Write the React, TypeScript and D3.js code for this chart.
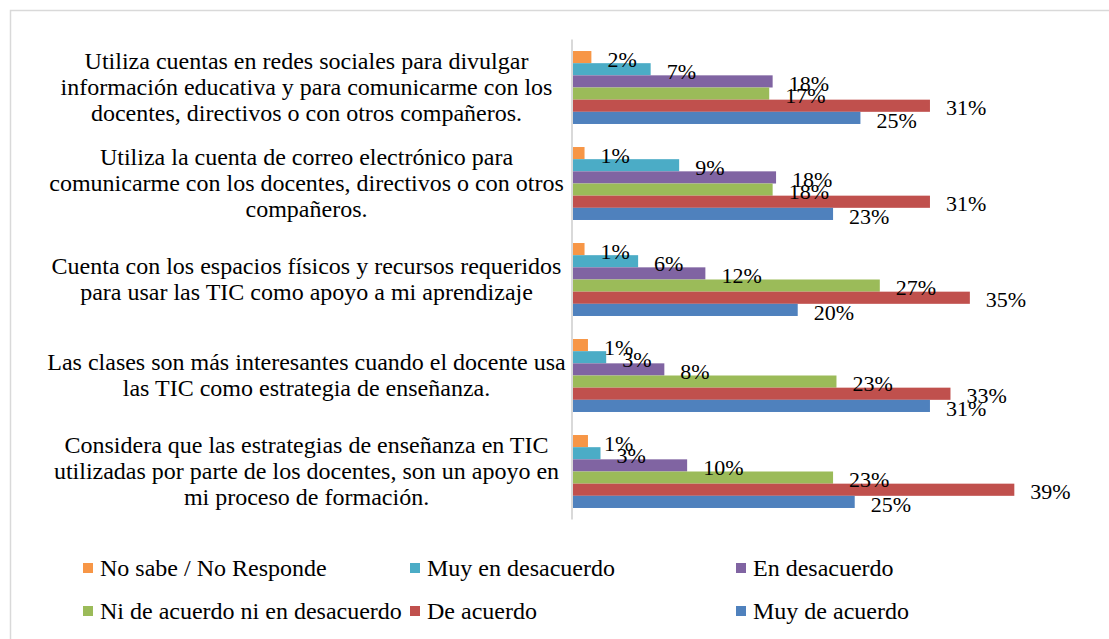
import React from "react";
import * as d3 from "d3";

const categories = [
  ["Utiliza cuentas en redes sociales para divulgar", "información educativa y para comunicarme con los", "docentes, directivos o con otros compañeros."],
  ["Utiliza la cuenta de correo electrónico para", "comunicarme con los docentes, directivos o con otros", "compañeros."],
  ["Cuenta con los espacios físicos y recursos requeridos", "para usar las TIC como apoyo a mi aprendizaje"],
  ["Las clases son más interesantes cuando el docente usa", "las TIC como estrategia de enseñanza."],
  ["Considera que las estrategias de enseñanza en TIC", "utilizadas por parte de los docentes, son un apoyo en", "mi proceso de formación."],
];

const seriesNames = [
  "No sabe / No Responde",
  "Muy en desacuerdo",
  "En desacuerdo",
  "Ni de acuerdo ni en desacuerdo",
  "De acuerdo",
  "Muy de acuerdo",
];

const seriesColors = ["#F79646", "#4BACC6", "#8064A2", "#9BBB59", "#C0504D", "#4F81BD"];

// values per series, one per category (top to bottom)
const noSabe = [0.017, 0.011, 0.011, 0.014, 0.014];
const muyEnDesacuerdo = [0.069, 0.094, 0.058, 0.030, 0.025];
const enDesacuerdo = [0.176, 0.179, 0.117, 0.081, 0.101];
const niNi = [0.173, 0.176, 0.270, 0.232, 0.229];
const deAcuerdo = [0.314, 0.314, 0.349, 0.332, 0.388];
const muyDeAcuerdo = [0.253, 0.229, 0.198, 0.314, 0.248];

const seriesValues = [noSabe, muyEnDesacuerdo, enDesacuerdo, niNi, deAcuerdo, muyDeAcuerdo];

const W = 1109;
const H = 639;
const FONT = "Liberation Serif, Times New Roman, serif";

export default function App() {
  const catIdx = categories.map((_, i) => i);
  const y = d3.scaleBand<number>().domain(catIdx).range([39.5, 519.5]).paddingInner(0.24).paddingOuter(0.12);
  const ySub = d3.scaleBand<number>().domain(seriesNames.map((_, i) => i)).range([0, y.bandwidth()]).padding(0);
  const x = d3.scaleLinear().domain([0, 0.4]).range([572, 572 + 456]);
  const fmt = d3.format(".0%");

  const legendCols = [83, 410, 736];
  const legendRows = [568, 611];

  return (
    <svg width={W} height={H} style={{ position: "absolute", left: 0, top: 0, fontFamily: FONT }}>
      <rect x={0} y={0} width={W} height={H} fill="#fff" />
      <rect x={10.5} y={10.5} width={W + 10} height={H + 10} fill="none" stroke="#d9d9d9" strokeWidth={1.5} />
      {categories.map((lines, ci) => {
        const cy = (y(ci) as number) + y.bandwidth() / 2;
        const lh = 26;
        const start = cy - ((lines.length - 1) * lh) / 2;
        return (
          <text key={"c" + ci} textAnchor="middle" fontSize={24} fill="#000">
            {lines.map((ln, li) => (
              <tspan key={li} x={306.5} y={start + li * lh} dy="0.3em">
                {ln}
              </tspan>
            ))}
          </text>
        );
      })}
      {seriesValues.map((vals, si) =>
        vals.map((v, ci) => {
          const by = (y(ci) as number) + (ySub(si) as number);
          return (
            <rect key={`b${si}-${ci}`} x={x(0)} y={by} width={x(v) - x(0)} height={ySub.bandwidth()} fill={seriesColors[si]} />
          );
        })
      )}
      <line x1={x(0)} x2={x(0)} y1={39.5} y2={519.5} stroke="#d9d9d9" strokeWidth={2} />
      {seriesValues.map((vals, si) =>
        vals.map((v, ci) => {
          const by = (y(ci) as number) + (ySub(si) as number) + ySub.bandwidth() / 2;
          return (
            <text key={`l${si}-${ci}`} x={x(v) + 16} y={by + 2} dy="0.35em" fontSize={22} fill="#000">
              {fmt(v)}
            </text>
          );
        })
      )}
      {seriesNames.map((name, si) => {
        const col = si % 3;
        const row = Math.floor(si / 3);
        const lx = legendCols[col];
        const ly = legendRows[row];
        return (
          <g key={"lg" + si}>
            <rect x={lx} y={ly - 5} width={10} height={10} fill={seriesColors[si]} />
            <text x={lx + 17} y={ly} dy="0.35em" fontSize={24} fill="#000">
              {name}
            </text>
          </g>
        );
      })}
    </svg>
  );
}
